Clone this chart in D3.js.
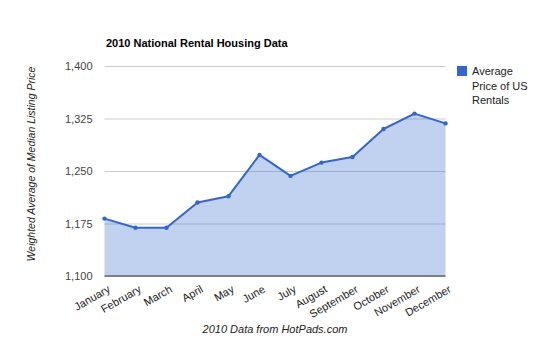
<!DOCTYPE html>
<html>
<head>
<meta charset="utf-8">
<script src="https://cdn.jsdelivr.net/npm/d3@7/dist/d3.min.js"></script>
<style>
  html, body { margin: 0; padding: 0; background: #fff; }
  svg { display: block; font-family: "Liberation Sans", Arial, sans-serif; }
</style>
</head>
<body>
<svg id="chart" width="550" height="342"></svg>
<script>
// 2010 monthly average rental prices (USD)
const months = ["January", "February", "March", "April", "May", "June",
                "July", "August", "September", "October", "November", "December"];
const prices = [1182, 1169, 1169, 1205, 1214, 1273, 1243, 1262, 1270, 1310, 1332, 1318];
const yTicks = [1100, 1175, 1250, 1325, 1400];
const seriesName = ["Average", "Price of US", "Rentals"];

const svg = d3.select("#chart");
const plot = { left: 104.5, right: 445.5, top: 66, bottom: 276 };

const x = d3.scalePoint().domain(months).range([plot.left, plot.right]);
const y = d3.scaleLinear().domain([1100, 1400]).range([plot.bottom, plot.top]);

const data = months.map((m, i) => ({ month: m, value: prices[i] }));

// Title
svg.append("text")
  .attr("x", 106).attr("y", 47)
  .attr("font-size", 11).attr("font-weight", "bold").attr("fill", "#000")
  .text("2010 National Rental Housing Data");

// Horizontal gridlines
const yAxis = d3.axisLeft(y).tickValues(yTicks).tickSize(-(plot.right - plot.left))
  .tickFormat(d3.format(","));
const gy = svg.append("g").attr("transform", `translate(${plot.left},0)`).call(yAxis);
gy.select(".domain").remove();
gy.selectAll(".tick line").attr("stroke", "#cccccc").attr("stroke-width", 1);
gy.selectAll(".tick text")
  .attr("x", -12).attr("dy", "0.32em")
  .attr("font-size", 11).attr("fill", "#444")
  .attr("font-family", "Liberation Sans, Arial, sans-serif");

// Area fill
const area = d3.area().x(d => x(d.month)).y0(y(1100)).y1(d => y(d.value));
svg.append("path").datum(data)
  .attr("d", area).attr("fill", "#3366cc").attr("fill-opacity", 0.3);

// Baseline
svg.append("line")
  .attr("x1", plot.left).attr("x2", plot.right)
  .attr("y1", y(1100)).attr("y2", y(1100))
  .attr("stroke", "#333").attr("stroke-width", 1.2);

// Line and points
const line = d3.line().x(d => x(d.month)).y(d => y(d.value));
svg.append("path").datum(data)
  .attr("d", line).attr("fill", "none")
  .attr("stroke", "#3366cc").attr("stroke-width", 2).attr("stroke-linejoin", "round");
svg.selectAll("circle.pt").data(data).enter().append("circle")
  .attr("class", "pt")
  .attr("cx", d => x(d.month)).attr("cy", d => y(d.value))
  .attr("r", 2.2).attr("fill", "#3366cc");

// Slanted month labels
const xAxis = d3.axisBottom(x).tickSize(0).tickPadding(0);
const gx = svg.append("g").attr("transform", `translate(0,${plot.bottom})`).call(xAxis);
gx.select(".domain").remove();
gx.selectAll(".tick text")
  .attr("text-anchor", "end")
  .attr("font-size", 11).attr("fill", "#222")
  .attr("font-family", "Liberation Sans, Arial, sans-serif")
  .attr("transform", "translate(4,12) rotate(-30)")
  .attr("y", 0).attr("dy", "0.35em");

// Axis titles
svg.append("text")
  .attr("transform", `translate(35,${(plot.top + plot.bottom) / 2 - 7}) rotate(-90)`)
  .attr("text-anchor", "middle").attr("font-size", 10.5).attr("font-style", "italic")
  .attr("fill", "#222")
  .text("Weighted Average of Median Listing Price");

svg.append("text")
  .attr("x", (plot.left + plot.right) / 2).attr("y", 333)
  .attr("text-anchor", "middle").attr("font-size", 11).attr("font-style", "italic")
  .attr("fill", "#222")
  .text("2010 Data from HotPads.com");

// Legend
const lg = svg.append("g").attr("transform", "translate(457,66)");
lg.append("rect").attr("width", 10).attr("height", 10).attr("fill", "#3366cc");
lg.selectAll("text").data(seriesName).enter().append("text")
  .attr("x", 15).attr("y", (d, i) => 9 + i * 14.5)
  .attr("font-size", 11).attr("fill", "#222")
  .text(d => d);
</script>
</body>
</html>
